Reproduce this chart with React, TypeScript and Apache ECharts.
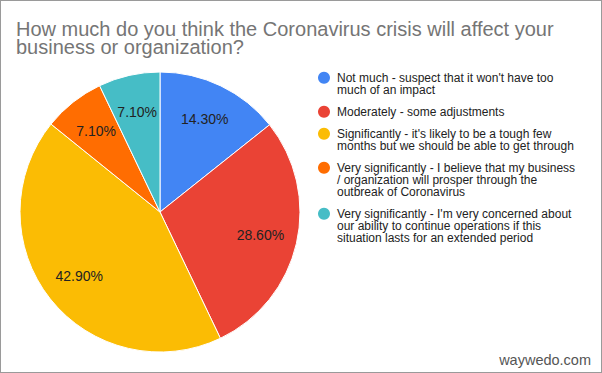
import React, { useEffect, useRef } from "react";
import * as echarts from "echarts";

const TITLE = "How much do you think the Coronavirus crisis will affect your\nbusiness or organization?";
const CATEGORIES = [
  "Not much - suspect that it won't have too\nmuch of an impact",
  "Moderately - some adjustments",
  "Significantly - it's likely to be a tough few\nmonths but we should be able to get through",
  "Very significantly - I believe that my business\n/ organization will prosper through the\noutbreak of Coronavirus",
  "Very significantly - I'm very concerned about\nour ability to continue operations if this\nsituation lasts for an extended period",
];
const VALUES = [14.3, 28.6, 42.9, 7.1, 7.1];
const COLORS = ["#4285f4", "#ea4335", "#fbbc04", "#ff6d01", "#46bdc6"];
const WATERMARK = "waywedo.com";

const FONT = "Arial, 'Liberation Sans', sans-serif";

export default function App() {
  const ref = useRef<HTMLDivElement>(null);
  useEffect(() => {
    document.body.style.margin = "0";
    const chart = echarts.init(ref.current!, null, { renderer: "svg" });
    const data = CATEGORIES.map((name, i) => ({
      name,
      value: VALUES[i],
      itemStyle: { color: COLORS[i] },
    }));
    // legend icon centers (page y) and line height
    const lineH = 12;
    const iconCenters = [77.7, 111.7, 133.7, 167.7, 213.7];
    const legends = CATEGORIES.map((name, i) => {
      const n = name.split("\n").length;
      return {
        orient: "vertical",
        left: 318,
        top: iconCenters[i] - 6 - (n - 1) * lineH,
        padding: 0,
        itemWidth: 16,
        itemHeight: 12,
        icon: "circle",
        selectedMode: false,
        itemStyle: { borderWidth: 0 },
        formatter: (nm: string) => "\n".repeat(n - 1) + nm,
        textStyle: {
          fontFamily: FONT,
          fontSize: 12,
          lineHeight: lineH,
          color: "#222222",
        },
        data: [{ name, itemStyle: { color: COLORS[i], borderWidth: 0 } }],
      };
    });
    chart.setOption({
      animation: false,
      backgroundColor: "#ffffff",
      textStyle: { fontFamily: FONT },
      title: {
        text: TITLE,
        left: 16,
        top: 20,
        padding: 0,
        textStyle: {
          fontFamily: FONT,
          fontSize: 20,
          fontWeight: "normal",
          lineHeight: 18,
          color: "#757575",
        },
      },
      legend: legends,
      graphic: [
        {
          type: "text",
          right: 11,
          top: 352,
          style: {
            text: WATERMARK,
            font: `14.5px ${FONT}`,
            fill: "#555555",
          },
        },
      ],
      series: [
        {
          type: "pie",
          center: [160, 212],
          radius: [0, 140],
          startAngle: 90,
          clockwise: true,
          label: { show: false },
          labelLine: { show: false },
          itemStyle: { borderColor: "#ffffff", borderWidth: 1 },
          emphasis: { disabled: true },
          data,
        },
        {
          type: "pie",
          center: [160, 212],
          radius: [60, 140],
          startAngle: 90,
          clockwise: true,
          silent: true,
          z: 5,
          legendHoverLink: false,
          itemStyle: { color: "rgba(0,0,0,0)", borderWidth: 0 },
          labelLine: { show: false },
          emphasis: { disabled: true },
          label: {
            show: true,
            position: "inside",
            fontFamily: FONT,
            fontSize: 14,
            color: "#222222",
            formatter: (p: any) => Number(p.value).toFixed(2) + "%",
          },
          data: CATEGORIES.map((name, i) => ({ name, value: VALUES[i] })),
        },
      ],
    });
    return () => chart.dispose();
  }, []);
  return (
    <div style={{ position: "fixed", left: 0, top: 0, width: 602, height: 373 }}>
      <div ref={ref} style={{ width: 602, height: 373 }} />
      <div
        style={{
          position: "absolute",
          left: 0,
          top: 0,
          width: 602,
          height: 373,
          boxSizing: "border-box",
          border: "1px solid #9a9a9a",
          pointerEvents: "none",
        }}
      />
    </div>
  );
}
